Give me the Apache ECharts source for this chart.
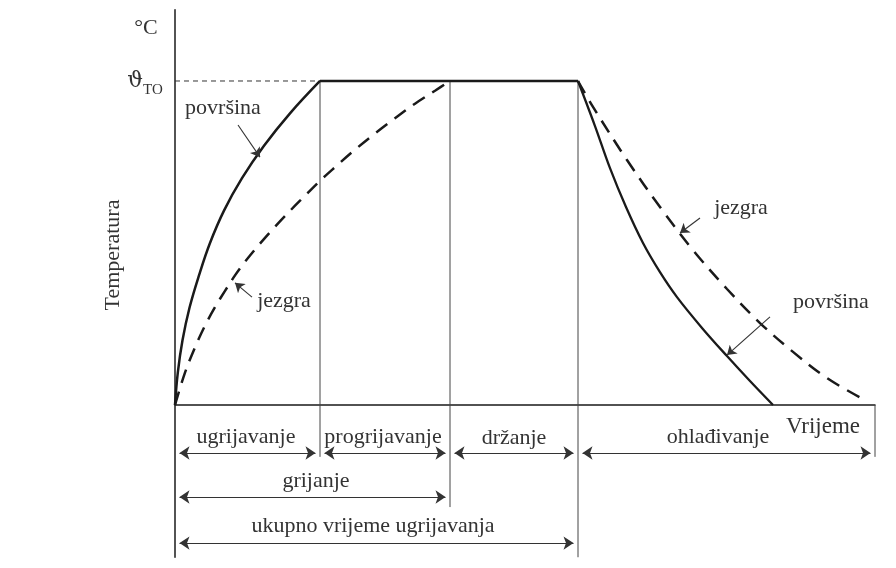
<!DOCTYPE html>
<html>
<head>
<meta charset="utf-8">
<script src="https://cdn.jsdelivr.net/npm/echarts@6/dist/echarts.min.js"></script>
<style>html,body{margin:0;padding:0;background:#fff}#c{width:896px;height:568px}</style>
</head>
<body>
<div id="c"></div>
<script>
// ---- data (time units on x, temperature in % of ϑTO on y) ----
const phaseX = [0, 14.5, 27.5, 40.3, 70];          // phase boundaries on time axis
const guideBottom = [-47, -16, -31.5, -47, -16];     // how far each boundary line drops
const tTO = 100;                                     // holding temperature ϑTO
const surfaceHeat = [[0,0],[0.28,10],[0.75,20],[1.45,30],[2.4,40],[3.5,50],[4.9,60],[6.7,70],[8.9,80],[11.5,90],[14.5,100]];
const plateau = [[14.5,100],[40.3,100]];
const surfaceCool = [[40.3,100],[42.0,86.1],[43.5,73.1],[45.1,61.1],[46.8,50.0],[48.5,41.0],[50.2,33.3],[52.7,23.8],[55.2,15.1],[57.5,7.4],[59.8,0]];
const coreHeat = [[0,0],[1,10],[2,17.8],[3,24.5],[4,30.2],[5,35.2],[6,40],[7,44.2],[8,48],[9,51.6],[10,55],[11,58.3],[12,61.5],[13,64.6],[14.5,69.2],[16,73.4],[18,78.8],[20,83.8],[22,88.5],[24,93],[26,97],[27.5,100]];
const coreCool = [[40.3,100],[41.8,92.0],[45.2,75.6],[48.5,61.1],[51.8,47.8],[55.2,35.8],[58.5,25.3],[61.8,16.4],[65.2,8.3],[69.0,1.5]];
const dimRows = [-14.8, -28.4, -42.6];
const dimSpans = [[0,1,0],[1,2,0],[2,3,0],[3,4,0],[0,2,1],[0,3,2]]; // [fromPhase, toPhase, row]
const pointers = [[[6.3,86.4],[8.5,76.5]],[[7.7,33.3],[6.0,37.7]],[[52.5,57.7],[50.5,53.1]],[[59.5,27.2],[55.2,15.4]]];

const ink = '#1a1a1a';
const txt = '#333';
const serif = '"Liberation Serif","DejaVu Serif",serif';
const fs = 22;

const chart = echarts.init(document.getElementById('c'), null, {renderer:'canvas'});

const guideSeries = phaseX.slice(1).map((x,i)=>({
  type:'line', data:[[x, i===3 ? 0 : tTO],[x, guideBottom[i+1]]],
  symbol:'none', silent:true, lineStyle:{color:'#444', width:1}, z:2
}));

const inset = 0.45;
const dimData = dimSpans.map(([a,b,r])=>({coords:[[phaseX[a]+inset, dimRows[r]],[phaseX[b]-inset, dimRows[r]]]}));

const T = (text, x, y, size, extra, family) => Object.assign({type:'text', x, y, style:{text, font:`${size||fs}px ${family||serif}`, fill:txt, align:'center', verticalAlign:'middle'}}, extra||{});

const option = {
  animation:false,
  grid:{left:175, right:21, top:9.7, bottom:10.7, containLabel:false},
  xAxis:{type:'value', min:0, max:70, axisLine:{onZero:true, lineStyle:{color:ink, width:1.5}}, axisTick:{show:false}, axisLabel:{show:false}, splitLine:{show:false}},
  yAxis:{type:'value', min:-47, max:122, axisLine:{show:true, lineStyle:{color:ink, width:1.5}}, axisTick:{show:false}, axisLabel:{show:false}, splitLine:{show:false}},
  series:[
    {type:'line', data:[[0,tTO],[14.5,tTO]], symbol:'none', lineStyle:{color:'#333', width:1, type:[5,4]}, z:2},
    ...guideSeries,
    {type:'line', data:surfaceHeat, smooth:0.4, symbol:'none', lineStyle:{color:ink, width:2.5}, z:5},
    {type:'line', data:plateau, symbol:'none', lineStyle:{color:ink, width:2.5}, z:5},
    {type:'line', data:surfaceCool, smooth:0.35, symbol:'none', lineStyle:{color:ink, width:2.3}, z:5},
    {type:'line', data:coreHeat, smooth:0.35, symbol:'none', lineStyle:{color:ink, width:2.5, type:[14,9]}, z:5},
    {type:'line', data:coreCool, smooth:0.35, symbol:'none', lineStyle:{color:ink, width:2.5, type:[14,9]}, z:5},
    {type:'lines', coordinateSystem:'cartesian2d', data:dimData, symbol:['arrow','arrow'], symbolSize:10,
     lineStyle:{color:'#333', width:1.2, opacity:1}, itemStyle:{color:'#222'}, z:4},
    {type:'lines', coordinateSystem:'cartesian2d', data:pointers.map(p=>({coords:p})), symbol:['none','arrow'], symbolSize:9,
     lineStyle:{color:'#333', width:1.1, opacity:1}, z:6}
  ],
  graphic:[
    T('°C', 146, 28, 22),
    T('ϑ', 143, 81, 22, null, '"DejaVu Serif",serif'),
    T('TO', 143, 90, 15),
    T('Temperatura', 113, 255, fs, {rotation:Math.PI/2}),
    T('površina', 223, 108),
    T('jezgra', 284, 301),
    T('jezgra', 741, 208),
    T('površina', 831, 302),
    T('ugrijavanje', 246, 437),
    T('progrijavanje', 383, 437),
    T('držanje', 514, 438),
    T('ohlađivanje', 718, 437),
    T('Vrijeme', 823, 427, 23),
    T('grijanje', 316, 481),
    T('ukupno vrijeme ugrijavanja', 373, 526)
  ]
};
option.graphic[1].style.align = 'right';
option.graphic[2].style.align = 'left';
chart.setOption(option);
</script>
</body>
</html>
